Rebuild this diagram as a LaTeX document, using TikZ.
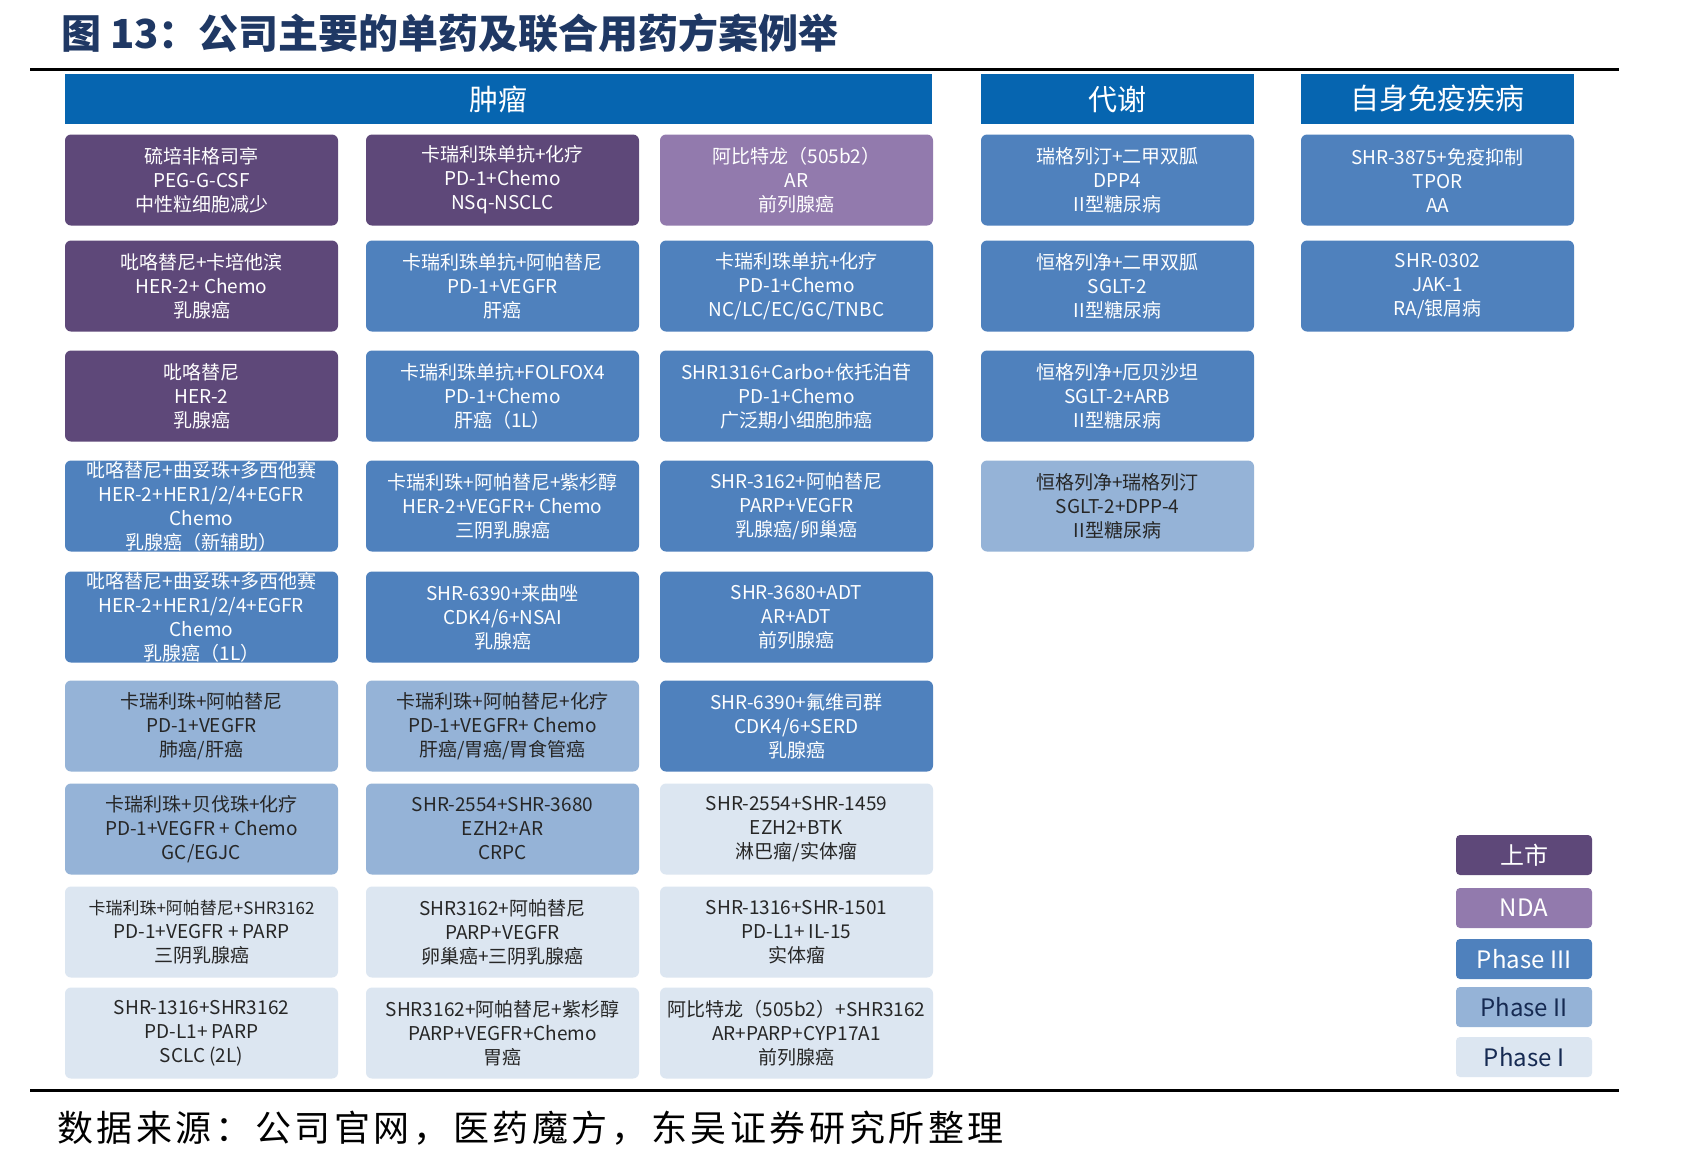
\documentclass[tikz,border=0pt]{standalone}
\usepackage{fontspec}
\newfontfamily\cjk{Noto Sans CJK SC}
\newfontfamily\notefont[LetterSpace=10]{Noto Sans CJK SC}
\usetikzlibrary{positioning}
\definecolor{hdrblue}{RGB}{6,101,176}
\definecolor{launchc}{RGB}{94,72,121}
\definecolor{ndac}{RGB}{146,122,173}
\definecolor{pthreec}{RGB}{79,129,189}
\definecolor{ptwoc}{RGB}{149,179,215}
\definecolor{ponec}{RGB}{220,230,241}
\definecolor{titlec}{RGB}{31,56,100}
\definecolor{keyc}{RGB}{22,42,82}
\tikzset{
  drug/.style={rounded corners=3pt, minimum width=136.5pt, minimum height=45.5pt,
    inner sep=0pt, align=center, font=\cjk\fontsize{9.5}{12}\selectfont},
  launch/.style={drug, fill=launchc, text=white},
  nda/.style={drug, fill=ndac, text=white},
  pthree/.style={drug, fill=pthreec, text=white},
  ptwo/.style={drug, fill=ptwoc, text=black!85},
  pone/.style={drug, fill=ponec, text=black!85},
  hdr/.style={fill=hdrblue, text=white, minimum height=25pt, inner sep=0pt,
    font=\cjk\fontsize{14.5}{16}\selectfont},
  key/.style={rounded corners=2pt, minimum width=68pt, minimum height=20pt,
    inner sep=0pt, font=\cjk\fontsize{12}{14}\selectfont},
}
\begin{document}
\begin{tikzpicture}[x=0.5pt,y=-0.5pt]
  \fill[white] (0,0) rectangle (1700,1162);
  \useasboundingbox (0,0) rectangle (1700,1162);
  \node[anchor=west, text=titlec, font=\cjk\bfseries\fontsize{20}{24}\selectfont] (title) at (54,33) {图 13：公司主要的单药及联合用药方案例举};
  \draw[line width=1.5pt] (30,69) -- (1619,69);
  \draw[line width=1.5pt] (30,1090) -- (1619,1090);
  \node[anchor=west, font=\notefont\fontsize{18}{22}\selectfont] (source) at (50,1128) {数据来源：公司官网，医药魔方，东吴证券研究所整理};

  \node[hdr, minimum width=433.5pt] (htumor) at (498.5,99) {肿瘤};
  \node[hdr, minimum width=136.5pt] (hmeta) at (1117.5,99) {代谢};
  \node[hdr, minimum width=136.5pt] (hauto) at (1437.5,99) {自身免疫疾病};

  \node[launch] (t11) at (201.5,180) {硫培非格司亭\\PEG-G-CSF\\中性粒细胞减少};
  \node[launch] (t12) at (201.5,286) {吡咯替尼+卡培他滨\\HER-2+ Chemo\\乳腺癌};
  \node[launch] (t13) at (201.5,396) {吡咯替尼\\HER-2\\乳腺癌};
  \node[pthree] (t14) at (201.5,506) {吡咯替尼+曲妥珠+多西他赛\\HER-2+HER1/2/4+EGFR\\Chemo\\乳腺癌（新辅助）};
  \node[pthree] (t15) at (201.5,617) {吡咯替尼+曲妥珠+多西他赛\\HER-2+HER1/2/4+EGFR\\Chemo\\乳腺癌（1L）};
  \node[ptwo] (t16) at (201.5,726) {卡瑞利珠+阿帕替尼\\PD-1+VEGFR\\肺癌/肝癌};
  \node[ptwo] (t17) at (201.5,829) {卡瑞利珠+贝伐珠+化疗\\PD-1+VEGFR + Chemo\\GC/EGJC};
  \node[pone] (t18) at (201.5,932) {{\fontsize{8.5}{12}\selectfont 卡瑞利珠+阿帕替尼+SHR3162}\\PD-1+VEGFR + PARP\\三阴乳腺癌};
  \node[pone] (t19) at (201.5,1033) {SHR-1316+SHR3162\\PD-L1+ PARP\\SCLC (2L)};

  \node[launch] (t21) at (502.5,180) {卡瑞利珠单抗+化疗\\PD-1+Chemo\\NSq-NSCLC};
  \node[pthree] (t22) at (502.5,286) {卡瑞利珠单抗+阿帕替尼\\PD-1+VEGFR\\肝癌};
  \node[pthree] (t23) at (502.5,396) {卡瑞利珠单抗+FOLFOX4\\PD-1+Chemo\\肝癌（1L）};
  \node[pthree] (t24) at (502.5,506) {卡瑞利珠+阿帕替尼+紫杉醇\\HER-2+VEGFR+ Chemo\\三阴乳腺癌};
  \node[pthree] (t25) at (502.5,617) {SHR-6390+来曲唑\\CDK4/6+NSAI\\乳腺癌};
  \node[ptwo] (t26) at (502.5,726) {卡瑞利珠+阿帕替尼+化疗\\PD-1+VEGFR+ Chemo\\肝癌/胃癌/胃食管癌};
  \node[ptwo] (t27) at (502.5,829) {SHR-2554+SHR-3680\\EZH2+AR\\CRPC};
  \node[pone] (t28) at (502.5,932) {SHR3162+阿帕替尼\\PARP+VEGFR\\卵巢癌+三阴乳腺癌};
  \node[pone] (t29) at (502.5,1033) {SHR3162+阿帕替尼+紫杉醇\\PARP+VEGFR+Chemo\\胃癌};

  \node[nda] (t31) at (796.5,180) {阿比特龙（505b2）\\AR\\前列腺癌};
  \node[pthree] (t32) at (796.5,286) {卡瑞利珠单抗+化疗\\PD-1+Chemo\\NC/LC/EC/GC/TNBC};
  \node[pthree] (t33) at (796.5,396) {SHR1316+Carbo+依托泊苷\\PD-1+Chemo\\广泛期小细胞肺癌};
  \node[pthree] (t34) at (796.5,506) {SHR-3162+阿帕替尼\\PARP+VEGFR\\乳腺癌/卵巢癌};
  \node[pthree] (t35) at (796.5,617) {SHR-3680+ADT\\AR+ADT\\前列腺癌};
  \node[pthree] (t36) at (796.5,726) {SHR-6390+氟维司群\\CDK4/6+SERD\\乳腺癌};
  \node[pone] (t37) at (796.5,829) {SHR-2554+SHR-1459\\EZH2+BTK\\淋巴瘤/实体瘤};
  \node[pone] (t38) at (796.5,932) {SHR-1316+SHR-1501\\PD-L1+ IL-15\\实体瘤};
  \node[pone] (t39) at (796.5,1033) {阿比特龙（505b2）+SHR3162\\AR+PARP+CYP17A1\\前列腺癌};

  \node[pthree] (m1) at (1117.5,180) {瑞格列汀+二甲双胍\\DPP4\\II型糖尿病};
  \node[pthree] (m2) at (1117.5,286) {恒格列净+二甲双胍\\SGLT-2\\II型糖尿病};
  \node[pthree] (m3) at (1117.5,396) {恒格列净+厄贝沙坦\\SGLT-2+ARB\\II型糖尿病};
  \node[ptwo] (m4) at (1117.5,506) {恒格列净+瑞格列汀\\SGLT-2+DPP-4\\II型糖尿病};

  \node[pthree] (a1) at (1437.5,180) {SHR-3875+免疫抑制\\TPOR\\AA};
  \node[pthree] (a2) at (1437.5,286) {SHR-0302\\JAK-1\\RA/银屑病};

  \node[key, fill=launchc, text=white] (klaunch) at (1524,855) {上市};
  \node[key, fill=ndac, text=white] (knda) at (1524,908) {NDA};
  \node[key, fill=pthreec, text=white] (kthree) at (1524,959) {Phase III};
  \node[key, fill=ptwoc, text=keyc] (ktwo) at (1524,1007) {Phase II};
  \node[key, fill=ponec, text=keyc] (kone) at (1524,1057) {Phase I};
\end{tikzpicture}
\end{document}
